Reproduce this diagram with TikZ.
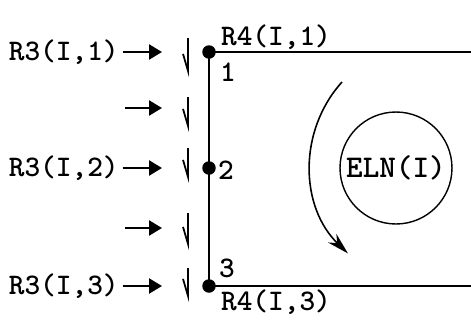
\documentclass[tikz,border=0pt]{standalone}
\usepackage{tikz}
\usetikzlibrary{arrows.meta}

\begin{document}
\begin{tikzpicture}[
  x=0.02cm, y=0.02cm,
  txt/.style={font=\fontsize{17}{20}\selectfont\ttfamily\bfseries, inner sep=0pt},
  joint/.style={circle, fill, inner sep=0pt, minimum size=0.27cm},
  elem/.style={circle, draw, line width=0.8pt, minimum size=2.24cm, inner sep=0pt,
               font=\fontsize{18}{21}\selectfont\ttfamily\bfseries},
  bar/.style={line width=1.2pt},
  inarr/.style={-{Triangle[length=0.26cm, width=0.3cm]}, line width=1.4pt},
  flux/.style={-{Straight Barb[harpoon, swap, length=0.34cm, width=0.2cm]}, line width=1pt},
  turn/.style={-{Stealth[length=0.44cm, width=0.24cm]}, line width=0.9pt},
]
  \useasboundingbox (0,0) rectangle (471,326);

  % Joints on the side
  \node[joint] (n1) at (209,274) {};
  \node[joint] (n2) at (209,158) {};
  \node[joint] (n3) at (209,40) {};
  \node[txt] (k1) at (228,254) {1};
  \node[txt] (k2) at (226,156) {2};
  \node[txt] (k3) at (227,58) {3};

  % Edge labels
  \node[txt] (r41) at (276,289) {R4(I,1)};
  \node[txt] (r43) at (276,24) {R4(I,3)};

  % Element
  \node[elem] (eln) at (396,158) {ELN(I)};

  % Side and edges
  \coordinate (t1) at (471,274);
  \coordinate (t3) at (471,40);
  \draw[bar] (t1) -- (n1.center) -- (n3.center) -- (t3);

  % Loads
  \node[txt, anchor=east] (r31) at (119,274) {R3(I,1)};
  \node[txt, anchor=east] (r32) at (119,158) {R3(I,2)};
  \node[txt, anchor=east] (r33) at (119,40) {R3(I,3)};
  \coordinate (s2) at (125,218);
  \coordinate (s4) at (125,98);
  \coordinate (e1) at (162,274);
  \coordinate (e2) at (162,218);
  \coordinate (e3) at (162,158);
  \coordinate (e4) at (162,98);
  \coordinate (e5) at (162,40);
  \draw[inarr] ([xshift=2pt]r31.east) -- (e1);
  \draw[inarr] (s2) -- (e2);
  \draw[inarr] ([xshift=2pt]r32.east) -- (e3);
  \draw[inarr] (s4) -- (e4);
  \draw[inarr] ([xshift=2pt]r33.east) -- (e5);

  % Flux marks
  \foreach \i/\ya/\yb in {1/288/249, 2/229/194, 3/178/143, 4/113/76, 5/58/24} {
    \coordinate (u\i) at (188,\ya);
    \coordinate (d\i) at (188,\yb);
    \draw[flux] (u\i) -- (d\i);
  }

  % Rotation
  \coordinate (rot) at (342,244);
  \draw[turn] (rot) arc[start angle=138, end angle=226, radius=2.47cm];
\end{tikzpicture}
\end{document}
